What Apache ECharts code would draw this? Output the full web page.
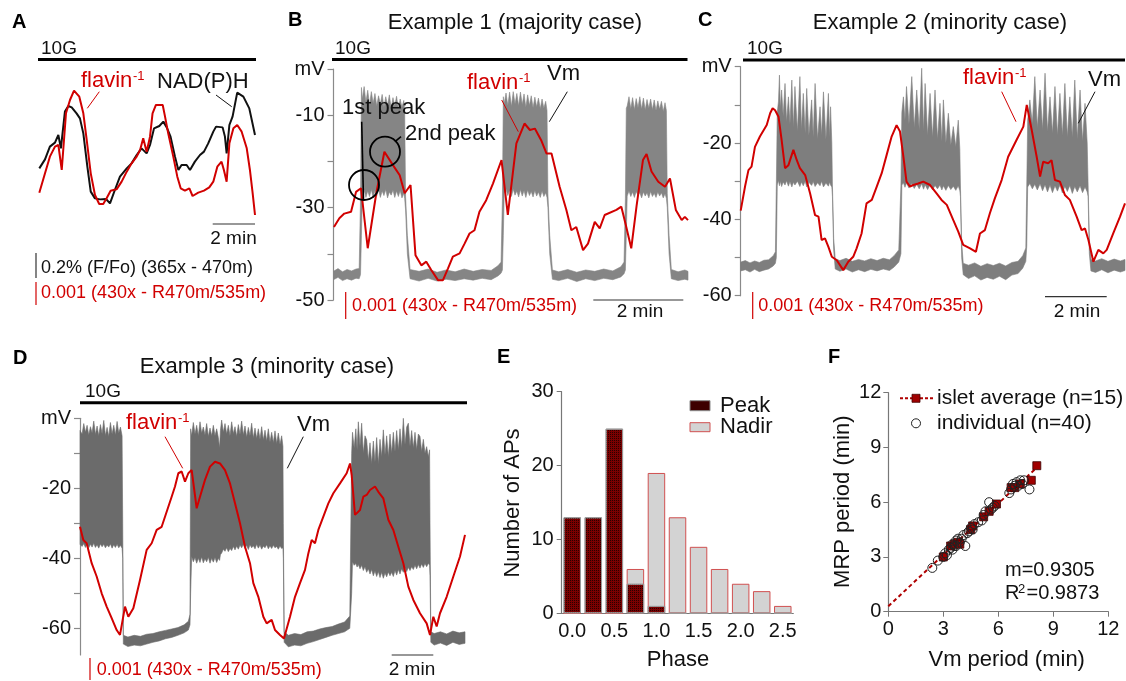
<!DOCTYPE html>
<html><head><meta charset="utf-8">
<script src="https://cdn.jsdelivr.net/npm/echarts@6/dist/echarts.min.js"></script>
<style>html,body{margin:0;padding:0;background:#fff}#c{width:1126px;height:681px}</style>
</head><body><div id="c"></div>
<script>
const FONT = '"Liberation Sans", Arial, Helvetica, sans-serif';
const RED = '#d10000';

// ---------- Panel A (time in min, NAD(P)H in % F/Fo, flavin^-1 in units of 0.001) ----------
const nadphA = [[0.00,0.373],[0.27,0.445],[0.50,0.547],[0.74,0.579],[0.90,0.640],[1.02,0.533],[1.21,0.827],[1.37,0.872],[1.53,0.861],[1.76,0.813],[1.92,0.773],[2.08,0.653],[2.27,0.387],[2.43,0.187],[2.63,0.133],[2.87,0.125],[3.15,0.128],[3.34,0.093],[3.57,0.200],[3.81,0.307],[4.13,0.373],[4.36,0.413],[4.60,0.480],[4.83,0.533],[5.07,0.493],[5.23,0.560],[5.42,0.693],[5.67,0.712],[5.86,0.747],[6.02,0.701],[6.20,0.627],[6.41,0.467],[6.57,0.360],[6.72,0.400],[6.96,0.400],[7.12,0.360],[7.35,0.427],[7.59,0.480],[7.78,0.507],[7.98,0.573],[8.22,0.667],[8.35,0.707],[8.66,0.701],[8.77,0.627],[8.85,0.493],[8.98,0.720],[9.13,0.787],[9.35,0.979],[9.64,0.947],[9.92,0.853],[10.19,0.640]];
const flavinA = [[0.00,0.957],[0.27,1.786],[0.50,2.500],[0.74,2.929],[0.90,3.000],[1.06,1.929],[1.26,4.357],[1.45,4.929],[1.64,5.329],[1.89,5.071],[2.08,4.357],[2.24,3.214],[2.43,1.786],[2.63,0.857],[2.83,0.471],[3.02,0.471],[3.18,0.714],[3.37,1.043],[3.65,1.100],[3.89,1.429],[4.13,1.857],[4.36,2.214],[4.60,2.500],[4.76,2.786],[4.91,3.286],[5.07,2.714],[5.23,3.357],[5.35,4.357],[5.51,4.714],[5.83,4.714],[5.94,4.214],[6.09,3.500],[6.33,2.500],[6.52,1.643],[6.68,1.143],[6.88,1.043],[7.09,1.143],[7.24,0.814],[7.51,0.957],[7.78,1.043],[8.03,1.186],[8.22,1.429],[8.41,2.071],[8.61,2.286],[8.72,1.929],[8.85,1.429],[8.98,3.071],[9.17,3.714],[9.35,3.857],[9.56,3.571],[9.80,2.857],[9.95,1.929],[10.08,0.929],[10.19,0.000]];

// ---------- Panel B (time in min, mV) ----------
const flavinB = [[0.01,-34.2],[0.13,-32.3],[0.24,-31.3],[0.39,-30.9],[0.50,-26.6],[0.61,-25.8],[0.76,-38.8],[0.95,-26.9],[1.13,-17.9],[1.32,-20.8],[1.47,-23.0],[1.58,-26.9],[1.71,-25.1],[1.82,-40.3],[1.95,-42.5],[2.06,-41.7],[2.17,-43.5],[2.32,-45.7],[2.43,-45.7],[2.54,-43.2],[2.65,-40.6],[2.80,-39.9],[2.91,-37.8],[3.02,-35.6],[3.13,-34.9],[3.24,-30.9],[3.39,-28.4],[3.54,-24.8],[3.73,-19.7],[3.87,-31.6],[4.06,-16.1],[4.24,-11.8],[4.36,-13.2],[4.47,-12.9],[4.61,-15.4],[4.73,-18.3],[4.84,-18.3],[5.02,-25.5],[5.17,-30.5],[5.28,-34.9],[5.39,-34.2],[5.54,-39.2],[5.65,-37.8],[5.80,-33.1],[5.91,-34.5],[6.02,-31.6],[6.28,-30.5],[6.39,-29.8],[6.50,-34.2],[6.61,-38.8],[6.73,-29.5],[6.87,-19.7],[6.95,-18.4],[7.06,-22.2],[7.21,-24.4],[7.36,-25.5],[7.47,-23.7],[7.60,-30.5],[7.73,-32.7],[7.80,-32.0],[7.87,-32.7]];
// Vm envelope rows: [time, upper mV, lower mV]
const vmB = [[0.00,-43.8,-45.6],[0.10,-43.2,-45.1],[0.20,-43.9,-45.8],[0.30,-43.4,-45.4],[0.40,-43.7,-45.7],[0.50,-43.3,-45.3],[0.57,-43.2,-45.4],[0.60,-28.0,-44.5],[0.62,-4.0,-36.0],[0.64,-6.5,-27.5],[0.68,-3.8,-26.2],[0.72,-7.2,-27.8],[0.76,-4.6,-26.4],[0.80,-7.8,-27.6],[0.84,-4.9,-26.1],[0.88,-7.4,-27.9],[0.92,-5.3,-26.3],[0.96,-8.0,-27.5],[1.00,-5.8,-26.0],[1.04,-7.6,-27.8],[1.08,-5.5,-26.4],[1.12,-8.2,-27.4],[1.16,-6.0,-26.1],[1.20,-7.9,-27.9],[1.24,-5.6,-26.6],[1.28,-8.5,-27.3],[1.32,-6.2,-26.2],[1.36,-8.0,-27.8],[1.40,-5.9,-26.4],[1.44,-8.6,-27.6],[1.48,-6.5,-26.3],[1.52,-8.3,-27.9],[1.56,-6.8,-26.9],[1.58,-9.0,-28.0],[1.60,-27.5,-30.5],[1.64,-36.0,-40.0],[1.70,-43.4,-45.4],[1.90,-43.8,-45.9],[2.10,-43.3,-45.3],[2.30,-44.0,-45.9],[2.50,-43.5,-45.5],[2.70,-43.9,-45.8],[2.90,-43.3,-45.4],[3.10,-43.8,-45.7],[3.30,-43.4,-45.3],[3.50,-43.6,-45.6],[3.65,-42.6,-44.8],[3.72,-41.8,-44.2],[3.75,-28.0,-43.5],[3.77,-6.0,-36.0],[3.79,-7.5,-27.0],[3.83,-5.2,-26.0],[3.87,-7.9,-27.4],[3.91,-5.0,-26.2],[3.95,-8.1,-27.6],[3.99,-4.9,-26.0],[4.03,-7.6,-27.3],[4.07,-5.3,-26.4],[4.11,-8.0,-27.7],[4.15,-5.0,-26.1],[4.19,-7.7,-27.5],[4.23,-5.4,-26.3],[4.27,-8.3,-27.8],[4.31,-5.6,-26.2],[4.35,-7.9,-27.4],[4.39,-5.8,-26.5],[4.43,-8.4,-27.7],[4.47,-6.1,-26.3],[4.51,-8.2,-27.5],[4.55,-6.3,-26.6],[4.59,-8.6,-27.8],[4.63,-6.5,-26.4],[4.67,-8.5,-27.6],[4.71,-7.0,-26.8],[4.74,-9.0,-27.8],[4.76,-27.0,-30.0],[4.80,-36.0,-40.0],[4.86,-43.5,-45.5],[5.00,-43.9,-45.8],[5.20,-43.4,-45.3],[5.40,-44.0,-46.0],[5.60,-43.5,-45.4],[5.80,-43.8,-45.8],[6.00,-43.3,-45.3],[6.20,-43.7,-45.6],[6.38,-42.8,-45.0],[6.45,-41.8,-44.3],[6.48,-28.0,-43.5],[6.50,-8.5,-36.0],[6.52,-8.0,-27.5],[6.56,-6.0,-26.4],[6.60,-8.6,-27.6],[6.64,-6.2,-26.6],[6.68,-8.8,-27.8],[6.72,-6.4,-26.5],[6.76,-8.4,-27.4],[6.80,-6.0,-26.7],[6.84,-8.7,-27.9],[6.88,-6.3,-26.6],[6.92,-8.9,-27.5],[6.96,-6.6,-26.8],[7.00,-8.5,-27.9],[7.04,-6.5,-26.5],[7.08,-8.8,-27.6],[7.12,-6.7,-26.9],[7.16,-9.0,-27.8],[7.20,-6.9,-26.6],[7.24,-8.7,-27.5],[7.28,-7.0,-26.8],[7.32,-9.2,-27.9],[7.36,-7.3,-27.0],[7.39,-9.0,-28.0],[7.41,-27.0,-30.0],[7.45,-36.0,-40.0],[7.50,-43.4,-45.4],[7.65,-43.9,-45.8],[7.80,-43.5,-45.5],[7.87,-43.8,-45.7]];

// ---------- Panel C ----------
const flavinC = [[0,-37.7],[0.14,-31.4],[0.25,-27.1],[0.35,-26.2],[0.46,-21.0],[0.62,-18.3],[0.84,-15.3],[0.95,-12.2],[1.03,-10.9],[1.11,-11.4],[1.22,-13.1],[1.32,-19.2],[1.43,-26.6],[1.54,-25.8],[1.70,-21.8],[1.81,-24.5],[1.91,-26.6],[2.08,-28.4],[2.24,-33.2],[2.40,-38.9],[2.51,-39.3],[2.61,-45.4],[2.72,-45.0],[2.83,-47.2],[2.94,-49.8],[3.10,-50.7],[3.31,-53.3],[3.47,-51.1],[3.63,-49.8],[3.74,-47.6],[3.90,-43.7],[4.06,-35.8],[4.23,-34.9],[4.39,-31.4],[4.55,-27.9],[4.71,-23.1],[4.87,-18.3],[5.03,-15.3],[5.14,-17.0],[5.25,-23.6],[5.35,-30.1],[5.46,-31.4],[5.57,-31.0],[5.73,-30.6],[5.89,-30.1],[6.11,-31.0],[6.32,-33.2],[6.48,-34.9],[6.65,-36.2],[6.86,-40.2],[7.02,-43.2],[7.18,-46.7],[7.40,-47.6],[7.59,-48.5],[7.72,-43.7],[7.88,-42.8],[8.04,-38.4],[8.20,-34.5],[8.42,-29.7],[8.63,-23.6],[8.90,-19.2],[9.12,-15.7],[9.23,-10.0],[9.39,-16.6],[9.55,-23.6],[9.66,-28.8],[9.76,-24.9],[9.92,-25.3],[10.03,-24.5],[10.14,-29.7],[10.30,-30.1],[10.46,-33.6],[10.62,-34.9],[10.84,-39.3],[11.00,-42.8],[11.11,-42.4],[11.22,-45.4],[11.38,-51.1],[11.54,-48.0],[11.70,-48.9],[11.81,-48.0],[12.02,-43.7],[12.24,-39.3],[12.40,-35.8]];
const vmC = [[0.00,-51.2,-53.5],[0.15,-50.8,-53.2],[0.30,-51.4,-53.8],[0.45,-50.9,-53.1],[0.60,-51.3,-53.7],[0.75,-50.7,-53.3],[0.90,-50.6,-53.0],[1.05,-49.5,-52.2],[1.12,-48.5,-51.5],[1.15,-31.0,-50.0],[1.18,-12.0,-31.0],[1.22,-9.0,-29.8],[1.25,-2.2,-31.2],[1.28,-11.0,-30.0],[1.32,-6.1,-31.4],[1.37,-13.0,-30.2],[1.43,-4.4,-31.0],[1.48,-14.5,-29.9],[1.54,-7.9,-31.3],[1.59,-15.0,-30.1],[1.65,-3.5,-31.5],[1.70,-16.0,-30.3],[1.75,-5.2,-31.0],[1.83,-17.0,-30.0],[1.91,-2.6,-31.4],[1.96,-16.5,-30.2],[2.02,-7.0,-31.2],[2.08,-17.5,-30.0],[2.13,-5.7,-31.5],[2.20,-18.0,-30.3],[2.29,-8.7,-31.1],[2.34,-18.5,-30.1],[2.40,-4.4,-31.4],[2.48,-19.0,-30.4],[2.56,-10.5,-31.2],[2.61,-18.0,-30.0],[2.67,-6.6,-31.5],[2.75,-19.0,-30.5],[2.83,-7.0,-31.3],[2.87,-18.5,-30.2],[2.90,-10.5,-31.0],[2.94,-20.0,-31.5],[2.96,-31.0,-34.0],[3.00,-45.0,-48.0],[3.05,-50.3,-53.0],[3.20,-50.8,-53.6],[3.40,-50.2,-53.0],[3.60,-51.0,-53.8],[3.80,-50.5,-53.2],[4.00,-50.9,-53.7],[4.20,-50.3,-53.1],[4.40,-50.8,-53.5],[4.60,-50.2,-53.0],[4.80,-50.6,-53.4],[4.95,-49.5,-52.5],[5.10,-48.0,-51.2],[5.17,-31.0,-49.0],[5.20,-12.0,-31.0],[5.25,-7.9,-30.4],[5.30,-14.0,-31.6],[5.35,-5.2,-30.5],[5.43,-15.0,-31.8],[5.52,-2.6,-30.6],[5.60,-16.0,-31.9],[5.68,-6.1,-30.8],[5.76,-16.5,-32.0],[5.84,-0.4,-30.7],[5.90,-17.0,-32.1],[5.95,-4.4,-30.9],[6.03,-18.0,-32.2],[6.11,-7.0,-31.0],[6.19,-18.5,-32.3],[6.27,-6.1,-31.1],[6.35,-19.0,-32.0],[6.43,-9.6,-31.0],[6.49,-19.5,-32.3],[6.54,-8.7,-31.2],[6.62,-20.0,-32.4],[6.70,-12.2,-31.1],[6.78,-20.5,-32.2],[6.86,-15.7,-31.3],[6.94,-21.0,-32.4],[7.02,-14.0,-31.2],[7.07,-21.5,-32.5],[7.09,-31.0,-34.0],[7.13,-46.0,-50.0],[7.18,-51.5,-54.5],[7.35,-52.0,-55.5],[7.55,-51.4,-54.8],[7.75,-52.3,-55.9],[7.95,-51.6,-55.2],[8.15,-52.1,-55.7],[8.35,-51.5,-54.9],[8.55,-52.2,-55.8],[8.75,-51.3,-54.6],[8.95,-51.0,-54.2],[9.10,-49.5,-52.8],[9.20,-47.5,-51.0],[9.23,-31.0,-47.0],[9.26,-14.0,-31.5],[9.33,-8.7,-30.6],[9.41,-15.0,-32.0],[9.49,-2.6,-30.8],[9.57,-16.0,-32.3],[9.66,-6.1,-30.7],[9.74,-16.5,-32.5],[9.82,-1.7,-30.9],[9.90,-17.0,-32.8],[9.98,-7.9,-31.0],[10.06,-17.5,-33.0],[10.14,-5.2,-31.2],[10.22,-18.0,-32.6],[10.30,-7.0,-31.0],[10.38,-18.0,-33.1],[10.46,-4.4,-31.3],[10.54,-18.5,-32.7],[10.62,-7.9,-31.1],[10.70,-18.5,-33.2],[10.78,-3.5,-31.4],[10.86,-19.0,-32.8],[10.95,-6.1,-31.2],[11.03,-19.5,-33.0],[11.11,-9.6,-31.5],[11.18,-20.0,-32.8],[11.21,-31.0,-34.0],[11.25,-45.0,-49.0],[11.30,-50.5,-53.5],[11.45,-50.9,-53.9],[11.65,-50.3,-53.2],[11.85,-51.0,-54.0],[12.05,-50.4,-53.3],[12.25,-50.9,-53.8],[12.40,-50.5,-53.4]];

// ---------- Panel D ----------
const flavinD = [[0,-31.0],[0.16,-34.8],[0.32,-35.7],[0.56,-41.4],[0.80,-45.2],[1.04,-50.0],[1.28,-53.8],[1.52,-57.1],[1.76,-60.5],[1.92,-61.9],[2.16,-53.8],[2.32,-56.7],[2.40,-57.1],[2.56,-54.3],[2.88,-46.2],[3.20,-37.6],[3.44,-35.7],[3.68,-31.9],[3.92,-31.0],[4.16,-26.7],[4.40,-22.4],[4.56,-19.5],[4.72,-15.7],[4.88,-15.2],[5.04,-18.1],[5.20,-15.7],[5.36,-14.8],[5.60,-25.7],[5.76,-22.4],[6.00,-17.6],[6.24,-13.8],[6.48,-12.4],[6.72,-12.9],[6.96,-14.8],[7.20,-18.6],[7.44,-24.3],[7.68,-30.0],[7.92,-36.7],[8.16,-41.4],[8.32,-47.1],[8.56,-51.0],[8.80,-56.7],[8.96,-58.6],[9.20,-57.6],[9.36,-60.5],[9.60,-61.9],[9.79,-62.9],[10.08,-56.7],[10.32,-51.0],[10.56,-47.1],[10.80,-43.3],[10.96,-38.6],[11.12,-34.8],[11.28,-35.7],[11.44,-31.9],[11.68,-28.1],[11.92,-24.3],[12.16,-21.4],[12.48,-18.6],[12.80,-15.7],[12.96,-12.9],[13.04,-16.2],[13.20,-27.6],[13.44,-26.2],[13.60,-22.4],[13.76,-21.9],[13.92,-20.5],[14.16,-19.5],[14.32,-21.0],[14.56,-22.9],[14.80,-29.0],[15.04,-31.9],[15.28,-36.7],[15.52,-41.4],[15.76,-48.1],[16.00,-51.9],[16.32,-55.7],[16.64,-58.6],[16.80,-61.9],[16.96,-56.7],[17.12,-59.5],[17.28,-55.7],[17.60,-51.0],[17.92,-45.2],[18.24,-39.5],[18.48,-33.3]];
const vmD = [[0.00,-3.5,-36.0],[0.10,-4.5,-36.6],[0.18,-1.5,-35.8],[0.26,-4.0,-36.9],[0.34,-2.0,-35.9],[0.42,-4.8,-37.0],[0.50,-2.4,-36.0],[0.58,-4.2,-36.8],[0.66,-0.8,-35.7],[0.74,-4.6,-36.9],[0.82,-2.2,-36.1],[0.90,-5.0,-37.1],[0.98,-1.8,-35.9],[1.06,-4.4,-36.7],[1.14,-0.6,-36.0],[1.22,-4.9,-37.0],[1.30,-2.6,-36.2],[1.38,-5.2,-36.8],[1.46,-1.2,-35.9],[1.54,-4.5,-37.1],[1.62,-2.0,-36.1],[1.70,-4.8,-36.9],[1.78,-0.9,-36.0],[1.86,-4.3,-37.0],[1.94,-2.5,-36.3],[2.02,-5.0,-37.1],[2.05,-30.0,-40.0],[2.08,-62.0,-64.5],[2.30,-62.5,-65.2],[2.60,-62.0,-64.8],[2.90,-62.3,-65.0],[3.20,-61.7,-64.5],[3.50,-61.5,-64.0],[3.80,-61.0,-63.6],[4.10,-60.6,-63.0],[4.40,-60.2,-62.6],[4.70,-59.8,-62.0],[5.00,-59.0,-61.3],[5.20,-58.0,-60.5],[5.28,-56.0,-59.0],[5.31,-3.0,-50.0],[5.36,-5.0,-39.5],[5.44,-1.2,-41.0],[5.52,-4.5,-39.8],[5.60,-2.0,-41.4],[5.68,-5.0,-40.0],[5.76,-1.0,-41.2],[5.84,-4.2,-39.6],[5.92,-2.5,-41.3],[6.00,-4.8,-40.1],[6.08,-1.5,-41.0],[6.16,-5.2,-39.7],[6.24,-2.8,-41.4],[6.32,-5.0,-40.0],[6.40,-2.0,-41.1],[6.48,-5.0,-39.8],[6.56,-3.0,-41.2],[6.64,-5.5,-40.0],[6.70,-8.5,-40.6],[6.74,-3.5,-39.0],[6.80,-0.5,-38.5],[6.88,-4.0,-37.4],[6.96,-1.5,-38.0],[7.04,-4.5,-37.0],[7.12,-2.0,-38.1],[7.20,-5.0,-37.2],[7.28,-1.0,-37.8],[7.36,-4.4,-36.6],[7.44,-2.4,-37.6],[7.52,-5.2,-36.5],[7.60,-1.8,-37.4],[7.68,-4.6,-36.2],[7.76,-0.8,-37.0],[7.84,-4.8,-36.0],[7.92,-2.2,-37.2],[8.00,-5.4,-36.3],[8.08,-2.6,-37.5],[8.16,-5.0,-36.1],[8.24,-1.4,-37.0],[8.32,-5.6,-36.4],[8.40,-2.8,-37.3],[8.48,-5.8,-36.0],[8.56,-3.0,-37.1],[8.64,-6.0,-36.2],[8.72,-2.4,-37.4],[8.80,-6.2,-36.5],[8.88,-3.4,-37.0],[8.96,-6.5,-36.1],[9.04,-3.0,-37.3],[9.12,-6.8,-36.4],[9.20,-4.0,-37.2],[9.28,-7.0,-36.3],[9.36,-3.6,-37.0],[9.44,-7.2,-36.6],[9.52,-4.2,-37.4],[9.60,-7.5,-36.5],[9.68,-5.0,-37.2],[9.74,-8.0,-37.0],[9.76,-30.0,-40.0],[9.80,-61.0,-64.0],[10.00,-62.0,-65.3],[10.30,-61.5,-64.8],[10.60,-61.8,-65.0],[10.90,-61.0,-64.3],[11.20,-60.8,-63.8],[11.50,-60.2,-63.2],[11.80,-59.8,-62.6],[12.10,-59.5,-62.0],[12.40,-58.8,-61.5],[12.70,-58.2,-61.0],[12.95,-56.5,-60.0],[13.04,-10.0,-50.0],[13.08,-4.0,-41.0],[13.16,-8.5,-42.0],[13.24,-3.0,-41.5],[13.30,-9.0,-42.5],[13.36,-1.0,-41.8],[13.44,-8.0,-43.0],[13.52,-1.4,-42.0],[13.60,-10.0,-43.5],[13.68,-5.0,-42.4],[13.76,-6.2,-44.0],[13.84,-12.0,-43.0],[13.92,-7.0,-44.5],[14.00,-13.0,-43.2],[14.08,-6.5,-45.0],[14.16,-12.5,-43.6],[14.24,-5.5,-45.2],[14.32,-13.0,-43.8],[14.40,-6.0,-45.5],[14.48,-11.0,-44.0],[14.56,-3.3,-45.7],[14.64,-10.5,-44.2],[14.72,-5.0,-45.3],[14.80,-11.0,-43.9],[14.88,-4.5,-45.0],[14.96,-10.0,-44.0],[15.04,-4.0,-45.2],[15.12,-9.5,-43.5],[15.20,-3.5,-44.8],[15.28,-9.0,-43.2],[15.36,-3.0,-44.5],[15.44,-8.5,-43.0],[15.52,0.0,-44.0],[15.60,-7.5,-42.8],[15.68,-2.5,-43.8],[15.76,-1.4,-42.6],[15.84,-8.0,-43.5],[15.92,-3.5,-42.4],[16.00,-8.5,-43.2],[16.08,-4.0,-42.0],[16.16,-9.0,-43.0],[16.24,-4.5,-41.8],[16.32,-5.2,-42.8],[16.40,-9.5,-41.6],[16.48,-6.0,-42.6],[16.56,-10.0,-41.5],[16.64,-8.1,-42.4],[16.72,-11.0,-41.4],[16.78,-9.0,-42.0],[16.80,-30.0,-45.0],[16.84,-61.0,-64.0],[17.00,-61.5,-64.8],[17.30,-61.0,-64.2],[17.60,-61.6,-64.9],[17.90,-60.8,-64.0],[18.20,-61.3,-64.6],[18.48,-61.0,-64.3]];

// ---------- Panel E ----------
const phaseCats = ['0.0','0.25','0.5','0.75','1.0','1.25','1.5','1.75','2.0','2.25','2.5'];
const peakCounts = [13,13,25,4,1,0,0,0,0,0,0];
const nadirCounts = [0,0,0,6,19,13,9,6,4,3,1];

// ---------- Panel F ----------
const isletAvg = [[3.0,3.0],[3.4,3.6],[3.6,3.7],[3.8,3.8],[3.9,3.7],[4.5,4.5],[4.6,4.7],[5.2,5.2],[5.5,5.5],[5.9,5.9],[6.7,6.8],[6.9,6.8],[7.2,7.0],[7.8,7.2],[8.1,8.0]];
const individual = [[2.4,2.4],[2.7,2.8],[3.0,3.0],[3.1,3.2],[3.2,3.1],[3.3,3.4],[3.4,3.5],[3.5,3.4],[3.5,3.7],[3.6,3.6],[3.7,3.9],[3.7,3.6],[3.8,4.0],[3.9,3.8],[4.0,4.0],[4.1,4.2],[4.2,3.6],[4.3,4.3],[4.4,4.4],[4.5,4.6],[4.6,4.5],[4.7,4.8],[4.9,4.9],[5.1,5.0],[5.2,5.3],[5.3,5.5],[5.5,6.0],[5.6,5.6],[5.7,5.7],[5.8,5.8],[6.6,6.5],[6.7,6.7],[6.8,7.0],[6.9,6.9],[7.0,7.1],[7.1,6.9],[7.2,7.2],[7.4,7.2],[7.7,6.7],[7.3,7.0]];
const fitLine = [[0,0.3],[8.1,7.9]];

// ================= build =================
// Vm trace drawn as one filled envelope polygon (upper edge forward, lower edge back)
function vmSeries(rows, xi, yi, color) {
  return {
    type: 'custom', xAxisIndex: xi, yAxisIndex: yi, data: rows, silent: true, z: 1,
    encode: {x: 0, y: [1, 2]},
    renderItem(params, api) {
      if (params.dataIndex !== 0) return null;
      const pts = [];
      for (let i = 0; i < rows.length; i++) pts.push(api.coord([rows[i][0], rows[i][1]]));
      for (let i = rows.length - 1; i >= 0; i--) pts.push(api.coord([rows[i][0], rows[i][2]]));
      return {type: 'polygon', shape: {points: pts}, style: {fill: color, stroke: color, lineWidth: 0.6}};
    }
  };
}
function traceLine(data, xi, yi, color) {
  return {type: 'line', xAxisIndex: xi, yAxisIndex: yi, data, symbol: 'none', silent: true, z: 3,
    lineStyle: {color, width: 2}};
}
function mvAxis(gi, min, labelVals, tickVals) {
  const ax = {type: 'value', gridIndex: gi, min, max: 0,
    axisLine: {show: true, lineStyle: {color: '#8a8a8a', width: 1.2}},
    axisTick: {show: true, length: 6, lineStyle: {color: '#8a8a8a', width: 1.2}},
    splitLine: {show: false},
    axisLabel: {fontFamily: FONT, fontSize: 20, color: '#111', margin: 9,
      formatter: v => v === 0 ? 'mV' : (labelVals.indexOf(v) >= 0 ? String(v) : '')}};
  if (tickVals) {
    ax.axisTick.customValues = tickVals;
    ax.axisLabel.customValues = [0].concat(labelVals);
  } else {
    ax.interval = 10;
  }
  return ax;
}
const hiddenX = (gi, max) => ({type: 'value', gridIndex: gi, min: 0, max, show: false});

function T(x, y, text, size, color, extra) {
  return Object.assign({type: 'text', x, y, z: 100, silent: true, style: Object.assign({text, fontFamily: FONT, fontSize: size, fill: color || '#111', align: 'left', verticalAlign: 'middle'}, (extra && extra.style) || {})}, (extra && extra.el) || {});
}
function L(x1, y1, x2, y2, color, w, dash) {
  return {type: 'line', z: 100, silent: true, shape: {x1, y1, x2, y2}, style: {stroke: color || '#111', lineWidth: w || 1, lineDash: dash || null}};
}
function C(cx, cy, r, color, w) {
  return {type: 'circle', z: 100, silent: true, shape: {cx, cy, r}, style: {fill: null, stroke: color || '#111', lineWidth: w || 1.5}};
}
function flavinLabel(x, y) {
  return [T(x, y, 'flavin', 22, RED), T(x + 52, y - 5, '-1', 13, RED)];
}
const bold = () => ({style: {fontWeight: 'bold'}});

const graphics = [
  // panel letters
  T(12, 22, 'A', 20, '#000', bold()), T(288, 20, 'B', 20, '#000', bold()), T(698, 20, 'C', 20, '#000', bold()),
  T(13, 358, 'D', 20, '#000', bold()), T(497, 357, 'E', 20, '#000', bold()), T(828, 357, 'F', 20, '#000', bold()),
  // titles
  T(515, 23, 'Example 1 (majority case)', 22, '#111', {style: {align: 'center'}}),
  T(940, 23, 'Example 2 (minority case)', 22, '#111', {style: {align: 'center'}}),
  T(267, 367, 'Example 3 (minority case)', 22, '#111', {style: {align: 'center'}}),
  // 10G bars
  T(41, 49, '10G', 19), L(38, 59.5, 256, 59.5, '#000', 3),
  T(335, 49, '10G', 19), L(332, 59.5, 687.5, 59.5, '#000', 3),
  T(747, 49, '10G', 19), L(743, 60, 1125, 60, '#000', 3),
  T(85, 392, '10G', 19), L(80, 402.7, 467, 402.7, '#000', 3),
  // panel A
  ...flavinLabel(81, 81), T(157, 81.5, 'NAD(P)H', 22),
  L(99.3, 91.7, 87.3, 108.3, RED, 1), L(216, 95, 231.7, 106.7, '#111', 1),
  L(212.7, 224, 255, 224, '#333', 1.2), T(233.5, 239, '2 min', 19, '#111', {style: {align: 'center'}}),
  L(36, 253, 36, 278, '#333', 1.2), T(41, 268, '0.2% (F/Fo) (365x - 470m)', 18),
  L(36, 282, 36, 305, RED, 1.2), T(41, 293, '0.001 (430x - R470m/535m)', 18, RED),
  // panel B
  T(342, 107.5, '1st peak', 22), T(405, 134, '2nd peak', 22),
  L(361.7, 121.7, 363.5, 200, '#000', 1.6), C(364, 185, 15, '#000', 1.8), C(385, 151.7, 15, '#000', 1.8),
  L(395, 141.7, 401, 136.7, '#000', 1.6),
  ...flavinLabel(467, 83), T(547, 74, 'Vm', 22),
  L(501.7, 100, 518.3, 131.7, RED, 1), L(567.3, 91.7, 549.3, 121.7, '#111', 1),
  L(345.7, 292, 345.7, 319, RED, 1.2), T(352, 306, '0.001 (430x - R470m/535m)', 18, RED),
  L(593.3, 300, 683.3, 300, '#333', 1.2), T(640, 312, '2 min', 19, '#111', {style: {align: 'center'}}),
  // panel C
  ...flavinLabel(963, 78), T(1088, 80, 'Vm', 22),
  L(1001.7, 91.7, 1016, 121.7, RED, 1), L(1095, 91.7, 1078.3, 123.3, '#111', 1),
  L(752.7, 292, 752.7, 319, RED, 1.2), T(758.3, 306, '0.001 (430x - R470m/535m)', 18, RED),
  L(1045, 296.7, 1106.7, 296.7, '#333', 1.2), T(1077, 312, '2 min', 19, '#111', {style: {align: 'center'}}),
  // panel D
  ...flavinLabel(126, 423), T(297, 425, 'Vm', 22),
  L(165, 436.7, 182.7, 468.3, RED, 1), L(303.3, 436.7, 287.3, 468.3, '#111', 1),
  L(90, 658, 90, 680, RED, 1.2), T(96.7, 670, '0.001 (430x - R470m/535m)', 18, RED),
  L(391.7, 655, 433.3, 655, '#333', 1.2), T(412, 670, '2 min', 19, '#111', {style: {align: 'center'}}),
  // panel E legend + axis names
  {type: 'rect', z: 100, silent: true, shape: {x: 690, y: 400.7, width: 20, height: 10}, style: {fill: '#3d0000', stroke: '#8a8a8a', lineWidth: 1}},
  T(720, 405.7, 'Peak', 22),
  {type: 'rect', z: 100, silent: true, shape: {x: 690, y: 422.7, width: 20, height: 9}, style: {fill: '#d3d3d3', stroke: '#d05050', lineWidth: 1}},
  T(720, 427.3, 'Nadir', 22),
  T(513, 503, 'Number of APs', 22, '#111', {style: {align: 'center'}, el: {rotation: Math.PI / 2}}),
  T(678, 660, 'Phase', 22, '#111', {style: {align: 'center'}}),
  // panel F legend + labels
  L(900, 398.3, 933.3, 398.3, '#b00000', 2, [3, 2]),
  {type: 'rect', z: 100, silent: true, shape: {x: 912, y: 394.3, width: 8, height: 8}, style: {fill: '#a00000', stroke: '#400', lineWidth: 0.8}},
  T(937, 398.3, 'islet average (n=15)', 21),
  C(916, 423.3, 4.5, '#222', 1),
  T(937, 423.3, 'individual (n=40)', 21),
  T(1005, 570, 'm=0.9305', 20),
  T(1005, 593.3, 'R', 20), T(1018, 589, '2', 13), T(1026.5, 593.3, '=0.9873', 20),
  T(843.3, 501.7, 'MRP period (min)', 22, '#111', {style: {align: 'center'}, el: {rotation: Math.PI / 2}}),
  T(1006.7, 660, 'Vm period (min)', 22, '#111', {style: {align: 'center'}})
];

const axisGray = '#777';
const option = {
  animation: false,
  backgroundColor: '#fff',
  textStyle: {fontFamily: FONT},
  grid: [
    {left: 39.3, top: 85, width: 215.7, height: 130},
    {left: 333.5, top: 69, width: 354.5, height: 231},
    {left: 740.7, top: 66.7, width: 384.3, height: 229},
    {left: 80, top: 418.3, width: 385, height: 236.6},
    {left: 561.7, top: 391.7, width: 231.6, height: 221.6},
    {left: 888.3, top: 392.7, width: 220, height: 219}
  ],
  xAxis: [
    hiddenX(0, 10.19), hiddenX(1, 7.87), hiddenX(2, 12.4), hiddenX(3, 18.48),
    {type: 'category', gridIndex: 4, data: phaseCats,
      axisLine: {lineStyle: {color: axisGray, width: 1.2}},
      axisTick: {alignWithLabel: true, interval: 0, length: 5, lineStyle: {color: axisGray}},
      axisLabel: {interval: 1, fontFamily: FONT, fontSize: 20, color: '#111', margin: 8}},
    {type: 'value', gridIndex: 5, min: 0, max: 12, interval: 3,
      axisLine: {show: true, lineStyle: {color: axisGray, width: 1.2}},
      axisTick: {show: true, length: 5, lineStyle: {color: axisGray}},
      splitLine: {show: false},
      axisLabel: {fontFamily: FONT, fontSize: 20, color: '#111', margin: 8}}
  ],
  yAxis: [
    {type: 'value', gridIndex: 0, min: 0, max: 1.04, show: false},
    {type: 'value', gridIndex: 0, min: 0, max: 5.571, show: false},
    mvAxis(1, -50, [-10, -30, -50]),
    mvAxis(2, -60, [-20, -40, -60]),
    mvAxis(3, -67.6, [-20, -40, -60], [0, -10, -20, -30, -40, -50, -60]),
    {type: 'value', gridIndex: 4, min: 0, max: 30, interval: 10,
      axisLine: {show: true, lineStyle: {color: axisGray, width: 1.2}},
      axisTick: {show: true, length: 5, lineStyle: {color: axisGray}},
      splitLine: {show: false},
      axisLabel: {fontFamily: FONT, fontSize: 20, color: '#111', margin: 8}},
    {type: 'value', gridIndex: 5, min: 0, max: 12, interval: 3,
      axisLine: {show: true, lineStyle: {color: axisGray, width: 1.2}},
      axisTick: {show: true, length: 5, lineStyle: {color: axisGray}},
      splitLine: {show: false},
      axisLabel: {fontFamily: FONT, fontSize: 20, color: '#111', margin: 7}}
  ],
  series: [
    traceLine(nadphA, 0, 0, '#111'),
    traceLine(flavinA, 0, 1, RED),
    vmSeries(vmB, 1, 2, '#858585'),
    traceLine(flavinB, 1, 2, RED),
    vmSeries(vmC, 2, 3, '#7e7e7e'),
    traceLine(flavinC, 2, 3, RED),
    vmSeries(vmD, 3, 4, '#6b6b6b'),
    traceLine(flavinD, 3, 4, RED),
    {type: 'bar', name: 'Nadir', xAxisIndex: 4, yAxisIndex: 5, data: nadirCounts, barWidth: 17.5, barGap: '-100%', z: 2,
      itemStyle: {color: '#d3d3d3', borderColor: '#d05050', borderWidth: 1}, silent: true},
    {type: 'bar', name: 'Peak', xAxisIndex: 4, yAxisIndex: 5, data: peakCounts, barWidth: 17.5, barGap: '-100%', z: 3,
      itemStyle: {color: '#7a0000', borderColor: '#9a9a9a', borderWidth: 1,
        decal: {symbol: 'rect', symbolSize: 1, color: 'rgba(0,0,0,0.65)', dashArrayX: [1, 1], dashArrayY: [1, 1]}}, silent: true},
    {type: 'line', name: 'fit', xAxisIndex: 5, yAxisIndex: 6, data: fitLine, symbol: 'none', silent: true, z: 2,
      lineStyle: {color: '#b00000', width: 2, type: [4, 3]}},
    {type: 'scatter', name: 'islet average (n=15)', xAxisIndex: 5, yAxisIndex: 6, data: isletAvg, symbol: 'rect', symbolSize: 8, z: 3,
      itemStyle: {color: '#a00000', borderColor: '#3a0000', borderWidth: 0.8, opacity: 1}, silent: true},
    {type: 'scatter', name: 'individual (n=40)', xAxisIndex: 5, yAxisIndex: 6, data: individual, symbol: 'circle', symbolSize: 9, z: 4,
      itemStyle: {color: 'rgba(0,0,0,0)', borderColor: '#222', borderWidth: 1, opacity: 1}, silent: true}
  ],
  graphic: graphics
};
const chart = echarts.init(document.getElementById('c'), null, {renderer: 'canvas'});
chart.setOption(option);
</script></body></html>
